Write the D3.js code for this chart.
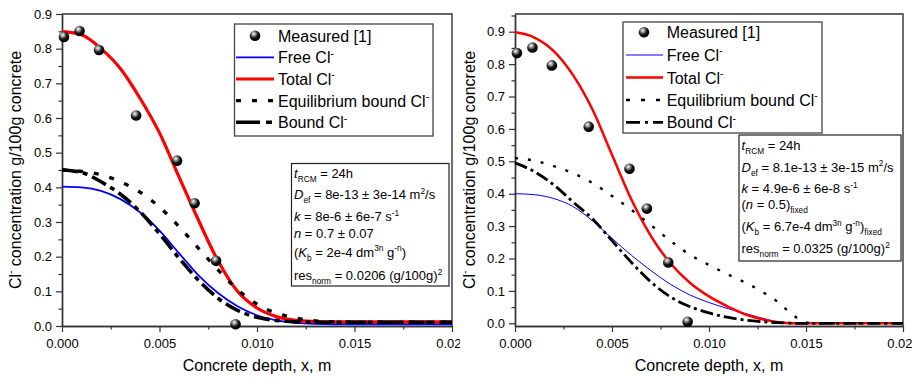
<!DOCTYPE html>
<html><head><meta charset="utf-8">
<script src="https://cdn.jsdelivr.net/npm/d3@7"></script>
<style>
body{margin:0;background:#fff}
svg{display:block}
text{font-family:Arial,"Liberation Sans",sans-serif;fill:#000}
</style></head>
<body><svg id="c" width="912" height="380"></svg>
<script>
// ---------- DATA ----------
const measuredX = [0.0001, 0.0009, 0.0019, 0.0038, 0.0059, 0.0068, 0.0079, 0.0089];
const measuredY = [0.834, 0.851, 0.796, 0.607, 0.477, 0.354, 0.188, 0.005];

const leftX     = [0,0.001,0.002,0.003,0.004,0.005,0.006,0.007,0.008,0.009,0.010,0.011,0.012,0.013,0.014,0.016,0.020];
const leftTotal = [0.849,0.840,0.800,0.742,0.657,0.557,0.430,0.305,0.188,0.100,0.052,0.027,0.016,0.013,0.012,0.012,0.012];
const leftFree  = [0.402,0.400,0.390,0.366,0.328,0.275,0.210,0.146,0.095,0.057,0.031,0.016,0.009,0.006,0.005,0.005,0.005];
const leftEq    = [0.450,0.446,0.436,0.416,0.386,0.343,0.287,0.224,0.162,0.105,0.063,0.037,0.023,0.015,0.012,0.011,0.011];
const leftBound = [0.450,0.443,0.416,0.380,0.330,0.266,0.196,0.132,0.080,0.045,0.025,0.016,0.012,0.011,0.011,0.011,0.011];

const rightX     = [0,0.001,0.002,0.003,0.004,0.005,0.006,0.007,0.008,0.009,0.010,0.011,0.012,0.013,0.0135,0.014,0.0145,0.015,0.0155,0.017,0.020];
const rightTotal = [0.898,0.882,0.840,0.765,0.659,0.520,0.382,0.270,0.186,0.126,0.083,0.051,0.025,0.009,0.004,0.001,0,0,0,0,0];
const rightFree  = [0.400,0.397,0.385,0.360,0.316,0.262,0.210,0.163,0.121,0.088,0.064,0.045,0.028,0.012,0.005,0.001,0,0,0,0,0];
const rightEq    = [0.510,0.502,0.485,0.463,0.433,0.393,0.350,0.303,0.255,0.212,0.180,0.150,0.122,0.088,0.068,0.042,0.018,0.003,0,0,0];
const rightBound = [0.495,0.468,0.427,0.374,0.322,0.255,0.188,0.128,0.082,0.052,0.032,0.018,0.009,0.004,0.002,0.001,0,0,0,0,0];

const xTicks = [0, 0.005, 0.010, 0.015, 0.020];
const xMinorTicks = [0.0025, 0.0075, 0.0125, 0.0175];
const yTicks = [0,0.1,0.2,0.3,0.4,0.5,0.6,0.7,0.8,0.9];
const yMinorTicks = [0.05,0.15,0.25,0.35,0.45,0.55,0.65,0.75,0.85,0.95];

const legendLabels = ["Measured [1]", "Free Cl", "Total Cl", "Equilibrium bound Cl", "Bound Cl"];

// ---------- HELPERS ----------
const svg = d3.select("#c");
const defs = svg.append("defs");
const grad = defs.append("radialGradient").attr("id","ball").attr("cx","38%").attr("cy","32%").attr("r","65%");
grad.append("stop").attr("offset","0%").attr("stop-color","#ffffff");
grad.append("stop").attr("offset","25%").attr("stop-color","#a0a0a0");
grad.append("stop").attr("offset","62%").attr("stop-color","#151515");
grad.append("stop").attr("offset","100%").attr("stop-color","#000");
defs.append("clipPath").attr("id","clipL").append("rect").attr("x",0).attr("y",0).attr("width",460).attr("height",380);
defs.append("clipPath").attr("id","clipR").append("rect").attr("x",460).attr("y",0).attr("width",452).attr("height",380);

function rich(sel, segs, size) {
  let off = 0;
  segs.forEach(s => {
    const txt = s[0], st = s[1] || "";
    const ts = sel.append("tspan").text(txt);
    let target = 0, fs = size;
    if (st.includes("sup")) { target = -0.42 * size; fs = 0.64 * size; }
    if (st.includes("sub")) { target = 0.32 * size; fs = 0.64 * size; }
    ts.attr("dy", (target - off).toFixed(2)).attr("font-size", fs);
    if (st.includes("it")) ts.attr("font-style", "italic");
    off = target;
  });
}

function panel(cfg) {
  const g = svg.append("g").attr("clip-path", `url(#${cfg.clip})`);
  const x = d3.scaleLinear().domain([0, 0.02]).range([cfg.x0, cfg.x1]);
  const y = d3.scaleLinear().domain(cfg.yDomain).range([cfg.yb, cfg.yt]);

  g.append("path").attr("d", `M${cfg.x0},${cfg.yt}H${cfg.x1}V${cfg.yb}`)
    .attr("fill","none").attr("stroke","#333").attr("stroke-width",1.4);

  g.append("g").attr("transform",`translate(0,${cfg.yb})`)
    .call(d3.axisBottom(x).tickValues(xTicks).tickFormat(d3.format(".3f")).tickSize(6).tickSizeOuter(0).tickPadding(7));
  g.append("g").attr("transform",`translate(0,${cfg.yb})`)
    .call(d3.axisBottom(x).tickValues(xMinorTicks).tickFormat("").tickSize(3.5).tickSizeOuter(0));
  g.append("g").attr("transform",`translate(${cfg.x0},0)`)
    .call(d3.axisLeft(y).tickValues(yTicks).tickFormat(d3.format(".1f")).tickSize(6).tickSizeOuter(0).tickPadding(4));
  g.append("g").attr("transform",`translate(${cfg.x0},0)`)
    .call(d3.axisLeft(y).tickValues(yMinorTicks.filter(v => y(v) >= cfg.yt)).tickFormat("").tickSize(3.5).tickSizeOuter(0));
  g.selectAll(".domain").attr("stroke","#333").attr("stroke-width",1.4);
  g.selectAll(".tick line").attr("stroke","#333").attr("stroke-width",1.2);
  g.selectAll(".tick text").attr("font-size",13).attr("fill","#000");

  g.append("text").attr("x",(cfg.x0+cfg.x1)/2).attr("y",371).attr("text-anchor","middle")
    .attr("font-size",16).text("Concrete depth, x, m");
  const yt = g.append("text").attr("text-anchor","middle")
    .attr("transform",`translate(${cfg.ytx},${(cfg.yt+cfg.yb)/2}) rotate(-90)`).attr("font-size",16);
  rich(yt, [["Cl"],["-","sup"],[" concentration g/100g concrete"]], 16);

  const line = (xs, ys) => d3.line().x((d,i)=>x(xs[i])).y(d=>y(d)).curve(d3.curveMonotoneX)(ys);
  const data = g.append("g");
  cfg.series.forEach(s => {
    data.append("path").attr("d", line(cfg.xs, s.vals)).attr("fill","none")
      .attr("stroke", s.color).attr("stroke-width", s.w)
      .attr("stroke-dasharray", s.dash || null).attr("stroke-linecap","butt");
  });
  data.selectAll("circle.m").data(measuredX).join("circle").attr("class","m")
    .attr("cx",(d)=>x(d)).attr("cy",(d,i)=>y(measuredY[i])).attr("r",5.3)
    .attr("fill","url(#ball)");

  const L = cfg.legend;
  g.append("rect").attr("x",L.x).attr("y",L.y).attr("width",L.w).attr("height",L.h)
    .attr("fill","#fff").attr("stroke","#444").attr("stroke-width",1.3);
  legendLabels.forEach((lab, i) => {
    const by = L.rows[i];
    const t = g.append("text").attr("x",L.tx).attr("y",by).attr("font-size",16);
    if (i === 0) {
      t.text(lab);
      g.append("circle").attr("cx",L.dot).attr("cy",by-6).attr("r",5.3).attr("fill","url(#ball)");
    } else {
      rich(t, [[lab],["-","sup"]], 16);
      const s = cfg.series[i-1];
      g.append("line").attr("x1",L.s0).attr("x2",L.s1).attr("y1",by-6).attr("y2",by-6)
        .attr("stroke",s.color).attr("stroke-width",s.w).attr("stroke-dasharray",s.legDash || s.dash || null);
    }
  });

  const A = cfg.annot;
  g.append("rect").attr("x",A.x).attr("y",A.y).attr("width",A.w).attr("height",A.h)
    .attr("fill","#fff").attr("stroke","#222").attr("stroke-width",1.2);
  A.lines.forEach((segs, i) => {
    const t = g.append("text").attr("x",A.tx).attr("y",A.rows[i]).attr("font-size",13);
    rich(t, segs, 13);
  });
}

panel({
  clip:"clipL", x0:62, x1:452, yb:326, yt:14, yDomain:[0,0.9], ytx:21, xs:leftX,
  series:[
    {vals:leftFree,  color:"#0000ff", w:1.8},
    {vals:leftTotal, color:"#ff0000", w:3.2},
    {vals:leftEq,    color:"#000", w:3.3, dash:"5,11", legDash:"5,11"},
    {vals:leftBound, color:"#000", w:3.6, dash:"16,5,5,5", legDash:"24,6,6,8"}
  ],
  legend:{x:234.5,y:24,w:198.5,h:112,tx:278,dot:255,s0:236,s1:274,rows:[41.7,63.3,85,106.7,128.3]},
  annot:{x:291.5,y:163.5,w:157.5,h:122.5,tx:294,rows:[178,199,221,238,256.5,280],
    lines:[
      [["t","it"],["RCM","sub"],[" = 24h"]],
      [["D","it"],["ef","sub"],[" = 8e-13 \u00b1 3e-14 m"],["2","sup"],["/s"]],
      [["k","it"],[" = 8e-6 \u00b1 6e-7 s"],["-1","sup"]],
      [["n","it"],[" = 0.7 \u00b1 0.07"]],
      [["("],["K","it"],["b","sub"],[" = 2e-4 dm"],["3n","sup"],[" g"],["-n","sup"],[")"]],
      [["res"],["norm","sub"],[" = 0.0206 (g/100g)"],["2","sup"]]
    ]}
});

panel({
  clip:"clipR", x0:515, x1:903, yb:326, yt:14, yDomain:[-0.0083,0.9546], ytx:475, xs:rightX,
  series:[
    {vals:rightFree,  color:"#0000ff", w:1},
    {vals:rightTotal, color:"#ff0000", w:2.5},
    {vals:rightEq,    color:"#000", w:2.4, dash:"3,10", legDash:"4,11"},
    {vals:rightBound, color:"#000", w:2.8, dash:"13,4,3,4", legDash:"14,5,3,5"}
  ],
  legend:{x:623,y:22,w:199,h:111,tx:666.7,dot:644,s0:626,s1:663,rows:[38.3,61,83.5,106,128.3]},
  annot:{x:739,y:135,w:162,h:126,tx:741.5,rows:[150,171.5,193,209,231,253],
    lines:[
      [["t","it"],["RCM","sub"],[" = 24h"]],
      [["D","it"],["ef","sub"],[" = 8.1e-13 \u00b1 3e-15 m"],["2","sup"],["/s"]],
      [["k","it"],[" = 4.9e-6 \u00b1 6e-8 s"],["-1","sup"]],
      [["("],["n","it"],[" = 0.5)"],["fixed","sub"]],
      [["("],["K","it"],["b","sub"],[" = 6.7e-4 dm"],["3n","sup"],[" g"],["-n","sup"],[")"],["fixed","sub"]],
      [["res"],["norm","sub"],[" = 0.0325 (g/100g)"],["2","sup"]]
    ]}
});
</script></body></html>
